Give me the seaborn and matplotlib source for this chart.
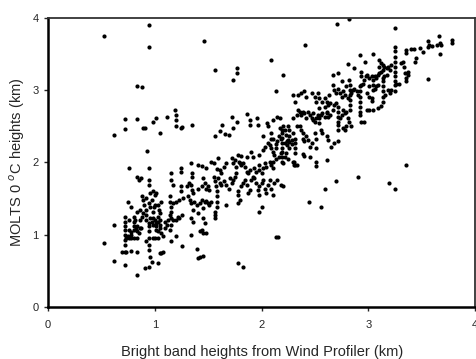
import matplotlib
matplotlib.use("Agg")
import matplotlib.pyplot as plt
import pandas as pd
import seaborn as sns

# (wind profiler bright band height, MOLTS 0C height) in km
low_band = [
    (0.62, 2.38), (1.05, 2.41), (0.93, 2.16), (0.76, 1.93), (0.94, 1.93), (1.15, 1.85),
    (1.24, 1.92), (1.24, 1.87), (1.34, 1.99), (1.35, 1.85), (1.35, 1.80),
    (0.83, 1.80), (0.85, 1.76), (0.87, 1.78), (0.94, 1.76), (0.94, 1.69), (0.95, 1.58),
    (0.98, 1.60), (1.00, 1.55), (1.01, 1.58), (1.15, 1.76), (1.17, 1.69), (1.24, 1.67),
    (1.24, 1.60), (1.30, 1.67), (1.32, 1.72), (1.34, 1.69), (1.35, 1.62), (1.36, 1.58),
    (0.88, 1.53), (0.89, 1.48), (0.90, 1.41), (0.92, 1.51), (0.94, 1.44), (0.95, 1.39),
    (0.97, 1.48), (0.98, 1.32), (1.00, 1.41), (1.03, 1.41), (1.04, 1.35), (1.05, 1.30),
    (0.75, 1.46), (0.78, 1.39), (0.83, 1.32), (0.86, 1.34), (1.14, 1.53), (1.14, 1.46),
    (1.15, 1.39), (1.15, 1.32), (1.17, 1.44), (1.20, 1.46), (1.23, 1.48), (1.26, 1.51),
    (1.31, 1.53), (1.33, 1.48), (1.34, 1.44), (1.36, 1.34),
    (0.72, 1.25), (0.72, 1.18), (0.72, 1.12), (0.72, 1.07), (0.72, 1.00), (0.72, 0.93),
    (0.72, 0.86), (0.73, 0.95), (0.75, 0.98), (0.76, 0.95), (0.78, 1.00), (0.80, 1.25),
    (0.80, 1.18), (0.81, 1.21), (0.83, 1.12), (0.83, 1.05), (0.83, 0.95), (0.86, 1.09),
    (0.87, 1.09), (0.92, 1.34), (0.92, 1.28), (0.92, 1.21), (0.94, 1.16), (0.94, 1.12),
    (0.94, 1.05), (0.94, 0.95), (0.95, 1.23), (0.97, 1.18), (0.98, 1.14), (1.00, 1.21),
    (1.01, 1.16), (1.01, 1.12), (1.01, 1.07), (1.03, 1.25), (1.05, 1.21), (1.05, 1.09),
    (1.06, 1.02), (1.08, 0.98), (1.09, 1.18), (1.14, 1.28), (1.15, 1.23), (1.15, 1.14),
    (1.17, 1.21), (1.20, 1.21), (1.22, 1.25), (1.23, 1.23), (1.25, 1.28), (1.14, 1.07),
    (1.15, 0.91), (1.20, 0.98), (1.25, 0.84), (1.34, 1.23), (1.36, 1.18), (1.34, 1.00),
    (0.52, 0.89), (0.62, 1.14),
    (0.76, 1.07), (0.78, 1.04), (0.80, 1.07), (0.82, 1.08), (0.78, 0.95), (0.80, 0.95),
    (0.85, 1.02), (0.86, 1.20), (0.88, 1.25), (0.89, 1.30), (0.76, 1.20), (0.80, 1.12),
    (0.98, 1.23), (1.03, 1.18), (1.05, 1.14), (1.03, 1.05), (1.09, 1.10), (1.11, 1.14),
    (1.12, 1.20), (0.99, 1.38), (1.06, 1.45),
    (0.69, 0.77), (0.72, 0.77), (0.73, 0.77), (0.78, 0.78), (0.83, 0.77), (0.92, 0.91),
    (0.94, 0.86), (0.94, 0.79), (0.95, 0.70), (0.97, 0.63), (0.98, 0.95), (1.00, 0.95),
    (1.03, 0.95), (1.05, 0.75), (1.06, 0.75), (1.08, 0.76), (1.03, 0.61), (0.91, 0.54),
    (0.94, 0.55), (0.83, 0.44), (0.62, 0.64), (0.72, 0.59), (1.39, 0.80), (1.40, 0.68),
    (1.42, 0.69), (1.45, 0.71),
]

mid_band = [
    (1.56, 2.37), (1.61, 2.43), (1.66, 2.39), (1.69, 2.38), (2.01, 2.36), (2.09, 2.40),
    (2.11, 2.32), (2.14, 2.29), (2.18, 2.33), (2.22, 2.27), (2.23, 2.38), (2.25, 2.31),
    (1.78, 2.10), (1.81, 2.09), (1.86, 2.08), (1.90, 2.15), (1.92, 2.08), (1.98, 2.10),
    (2.01, 2.17), (2.03, 2.22), (2.08, 2.24), (2.09, 2.20), (2.11, 2.15), (2.12, 2.10),
    (2.11, 2.01), (2.18, 2.13), (2.20, 1.99), (2.22, 2.08),
    (1.40, 1.97), (1.44, 1.95), (1.48, 1.92), (1.53, 2.01), (1.55, 1.99), (1.58, 1.91),
    (1.59, 2.06), (1.61, 1.90), (1.62, 1.85), (1.65, 1.94), (1.67, 1.99), (1.72, 2.06),
    (1.73, 1.99), (1.75, 2.04), (1.76, 1.94), (1.79, 2.01), (1.80, 1.99), (1.81, 1.97),
    (1.83, 1.99), (1.84, 1.94), (1.86, 1.87), (1.87, 1.85), (1.89, 1.90), (1.93, 1.92),
    (1.95, 1.87), (1.98, 1.97), (1.98, 1.90), (2.00, 1.85), (2.01, 1.92), (2.03, 1.99),
    (2.04, 1.94), (2.08, 2.01), (2.09, 1.97), (2.11, 1.92),
    (1.40, 1.64), (1.44, 1.67), (1.45, 1.78), (1.47, 1.71), (1.48, 1.64), (1.50, 1.67),
    (1.51, 1.62), (1.55, 1.80), (1.56, 1.74), (1.57, 1.67), (1.58, 1.60), (1.58, 1.53),
    (1.58, 1.46), (1.58, 1.39), (1.59, 1.78), (1.61, 1.71), (1.62, 1.69), (1.65, 1.74),
    (1.67, 1.69), (1.69, 1.64), (1.70, 1.78), (1.72, 1.71), (1.73, 1.76), (1.75, 1.80),
    (1.76, 1.85), (1.78, 1.60), (1.78, 1.55), (1.80, 1.48), (1.81, 1.67), (1.83, 1.71),
    (1.84, 1.76), (1.86, 1.69), (1.87, 1.58), (1.89, 1.62), (1.90, 1.76), (1.92, 1.80),
    (1.93, 1.78), (1.95, 1.71), (1.97, 1.62), (1.98, 1.55), (1.98, 1.67), (2.00, 1.71),
    (2.01, 1.76), (2.03, 1.64), (2.04, 1.58), (2.06, 1.69), (2.08, 1.76), (2.09, 1.64),
    (2.11, 1.55), (2.12, 1.71), (2.14, 1.76), (2.18, 1.69), (2.20, 1.67),
    (1.37, 1.46), (1.39, 1.41), (1.40, 1.30), (1.42, 1.44), (1.44, 1.48), (1.45, 1.37),
    (1.47, 1.46), (1.48, 1.47), (1.50, 1.44), (1.51, 1.41), (1.53, 1.46), (1.56, 1.32),
    (1.56, 1.28), (1.56, 1.23), (1.67, 1.41), (1.78, 1.44), (2.00, 1.39), (1.98, 1.32),
    (1.42, 1.05), (1.44, 1.07), (1.45, 1.02), (1.48, 1.02), (1.45, 1.23), (1.47, 1.16),
    (1.78, 0.61), (1.83, 0.56), (2.13, 0.97), (2.15, 0.97),
    (1.72, 2.63), (1.86, 2.67), (1.96, 2.61), (1.89, 2.59), (1.63, 2.52), (1.77, 2.56),
    (1.73, 2.47), (1.35, 2.52), (1.25, 2.49), (2.05, 2.54), (2.06, 2.50), (1.97, 2.52),
    (2.11, 2.59), (2.14, 2.63), (2.17, 2.61), (1.89, 2.52),
    (2.19, 2.45), (2.19, 2.40), (2.19, 2.34), (2.19, 2.27), (2.19, 2.20), (2.19, 2.14),
    (2.19, 2.07), (2.19, 2.00), (2.24, 2.24), (2.26, 2.20), (2.28, 2.25), (2.24, 2.30),
    (2.26, 2.28), (2.30, 2.00), (2.30, 1.97), (2.13, 2.20), (2.13, 2.26), (2.13, 2.05),
    (2.06, 2.27), (2.09, 2.32), (2.16, 2.36), (2.16, 2.08), (2.23, 2.13), (2.25, 2.05),
]

high_band = [
    (2.41, 3.62), (2.20, 3.21), (3.25, 3.60), (3.25, 3.54), (3.25, 3.46), (3.25, 3.39),
    (3.35, 3.55), (3.35, 3.51), (3.40, 3.56), (3.43, 3.56), (3.45, 3.44), (3.44, 3.39),
    (3.48, 3.58), (3.51, 3.53), (3.56, 3.60), (3.56, 3.67), (3.57, 3.62), (3.60, 3.61),
    (3.64, 3.62), (3.66, 3.74), (3.67, 3.65), (3.68, 3.62), (3.67, 3.50), (3.78, 3.69),
    (3.78, 3.65), (3.56, 3.15),
    (2.92, 3.48), (3.04, 3.50), (2.81, 3.36), (2.87, 3.31), (2.97, 3.38), (3.10, 3.41),
    (3.12, 3.37), (3.14, 3.35), (3.10, 3.32), (3.15, 3.32), (3.17, 3.30), (3.18, 3.32),
    (3.20, 3.28), (3.21, 3.35), (3.25, 3.32), (3.25, 3.25), (3.25, 3.19), (3.25, 3.12),
    (3.25, 3.07), (3.26, 3.09), (3.29, 3.09), (3.31, 3.37), (3.32, 3.39), (3.33, 3.32),
    (3.34, 3.23), (3.35, 3.16), (3.37, 3.21), (3.35, 3.12), (3.37, 3.25),
    (2.67, 3.21), (2.72, 3.24), (2.75, 3.13), (2.67, 3.07), (2.68, 3.00), (2.70, 2.96),
    (2.72, 3.02), (2.73, 2.96), (2.75, 2.91), (2.76, 2.98), (2.78, 2.93), (2.79, 3.05),
    (2.81, 2.89), (2.82, 3.14), (2.83, 3.07), (2.83, 3.00), (2.83, 2.93), (2.83, 2.86),
    (2.83, 2.79), (2.83, 2.72), (2.84, 2.96), (2.86, 3.00), (2.87, 3.02), (2.89, 2.98),
    (2.90, 2.93), (2.92, 3.05), (2.92, 2.98), (2.92, 2.91), (2.92, 2.84), (2.92, 2.77),
    (2.92, 2.70), (2.92, 2.66), (2.93, 3.07), (2.93, 3.19), (2.93, 3.25), (2.95, 3.09),
    (2.96, 3.14), (2.98, 3.19), (2.99, 3.21), (3.01, 3.16), (3.03, 3.19), (3.04, 3.14),
    (3.04, 3.07), (3.06, 3.19), (3.07, 3.16), (3.09, 3.21), (3.10, 3.23), (3.12, 3.25),
    (3.14, 3.28), (3.14, 3.16), (3.15, 3.19), (3.17, 3.21), (3.14, 3.12), (3.14, 3.05),
    (3.14, 2.98), (3.14, 2.91), (3.14, 2.84), (3.16, 2.93), (3.18, 3.00), (3.20, 2.96),
    (3.21, 3.00), (3.25, 2.99), (3.04, 3.00), (3.06, 3.02), (3.07, 3.05), (3.09, 3.07),
    (3.01, 3.05), (2.99, 2.96), (3.01, 2.91), (3.03, 2.89), (2.99, 2.72), (3.01, 2.72),
    (3.04, 2.72), (3.09, 2.75), (3.12, 2.78), (3.03, 2.85), (2.96, 2.56), (2.93, 2.56),
    (2.29, 2.93), (2.31, 2.84), (2.34, 2.93), (2.37, 2.96), (2.40, 2.98), (2.42, 2.91),
    (2.47, 2.96), (2.50, 2.91), (2.53, 2.96), (2.51, 2.84), (2.54, 2.89), (2.57, 2.84),
    (2.59, 2.89), (2.61, 2.84), (2.59, 2.77), (2.61, 2.68), (2.62, 2.79), (2.64, 2.82),
    (2.63, 2.93), (2.48, 2.68), (2.54, 2.75), (2.29, 2.61), (2.33, 2.66), (2.34, 2.72),
    (2.36, 2.70), (2.37, 2.66), (2.39, 2.70), (2.40, 2.68), (2.42, 2.61), (2.43, 2.70),
    (2.45, 2.66), (2.47, 2.61), (2.48, 2.59), (2.50, 2.56), (2.51, 2.62), (2.53, 2.66),
    (2.54, 2.61), (2.56, 2.66), (2.57, 2.68), (2.59, 2.63), (2.61, 2.70), (2.62, 2.63),
    (2.64, 2.66), (2.67, 2.72), (2.68, 2.79), (2.70, 2.82), (2.72, 2.77), (2.72, 2.70),
    (2.72, 2.63), (2.72, 2.56), (2.72, 2.52), (2.72, 2.45), (2.73, 2.61), (2.75, 2.66),
    (2.76, 2.72), (2.78, 2.68), (2.79, 2.70), (2.81, 2.61), (2.82, 2.56), (2.84, 2.50),
    (2.76, 2.47), (2.78, 2.45), (2.79, 2.50),
    (2.17, 2.47), (2.20, 2.50), (2.22, 2.45), (2.25, 2.50), (2.26, 2.45), (2.29, 2.40),
    (2.31, 2.33), (2.31, 2.27), (2.31, 2.20), (2.31, 2.13), (2.33, 2.50), (2.36, 2.50),
    (2.37, 2.45), (2.39, 2.40), (2.39, 2.33), (2.40, 2.29), (2.42, 2.36), (2.43, 2.31),
    (2.45, 2.22), (2.47, 2.27), (2.50, 2.40), (2.51, 2.33), (2.51, 2.20), (2.54, 2.54),
    (2.56, 2.45), (2.57, 2.40), (2.61, 2.36), (2.62, 2.31), (2.65, 2.22), (2.68, 2.27),
    (2.72, 2.29), (2.26, 2.36), (2.28, 2.31), (2.29, 2.00), (2.31, 1.96), (2.33, 1.96),
    (2.39, 2.12), (2.40, 2.09), (2.45, 2.07), (2.51, 2.01), (2.51, 1.95), (2.61, 2.04),
    (3.35, 1.96),
]

outliers = [
    (0.52, 3.74), (0.94, 3.90), (0.94, 3.59), (0.83, 3.06), (0.88, 3.04), (0.72, 2.60),
    (0.72, 2.46), (0.83, 2.60), (0.89, 2.47), (0.91, 2.48), (0.98, 2.56), (1.01, 2.62),
    (1.11, 2.63), (1.19, 2.72), (1.20, 2.65), (1.20, 2.58), (1.20, 2.50), (1.24, 2.48),
    (1.56, 3.27), (1.46, 3.68), (1.73, 3.14), (1.77, 3.31), (1.77, 3.23), (2.09, 3.42),
    (2.13, 2.99), (2.71, 3.91), (2.82, 3.98), (3.25, 3.86), (2.44, 1.45), (2.56, 1.38),
    (2.59, 1.64), (2.90, 1.80), (2.70, 1.74), (3.19, 1.71), (3.25, 1.64),
]

points = low_band + mid_band + high_band + outliers
df = pd.DataFrame(points, columns=["profiler", "molts"])

sns.set_style("white")
plt.rcParams["font.family"] = ["Liberation Sans", "DejaVu Sans"]

fig = plt.figure(figsize=(4.77, 3.59), dpi=100)
ax = fig.add_axes([0.101, 0.144, 0.895, 0.807])
sns.scatterplot(data=df, x="profiler", y="molts", ax=ax, color="black",
                s=9, linewidth=0, marker="o")

ax.set_xlim(0, 4)
ax.set_ylim(0, 4)
ax.set_xticks([0, 1, 2, 3, 4])
ax.set_yticks([0, 1, 2, 3, 4])
ax.tick_params(axis="x", direction="out", length=3, width=1, pad=6, labelsize=8, bottom=True)
ax.tick_params(axis="y", direction="out", length=3, width=1, pad=4, labelsize=8, left=True)

for side in ["left", "bottom"]:
    ax.spines[side].set_color("black")
    ax.spines[side].set_linewidth(1.8)
for side in ["top", "right"]:
    ax.spines[side].set_color("#333333")
    ax.spines[side].set_linewidth(1.3)

ax.set_xlabel("Bright band heights from Wind Profiler (km)", fontsize=10.5, labelpad=11)
ax.set_ylabel("MOLTS 0 $^{o}$C heights (km)", fontsize=10.5, labelpad=4)

fig.savefig("out.png", dpi=100)
